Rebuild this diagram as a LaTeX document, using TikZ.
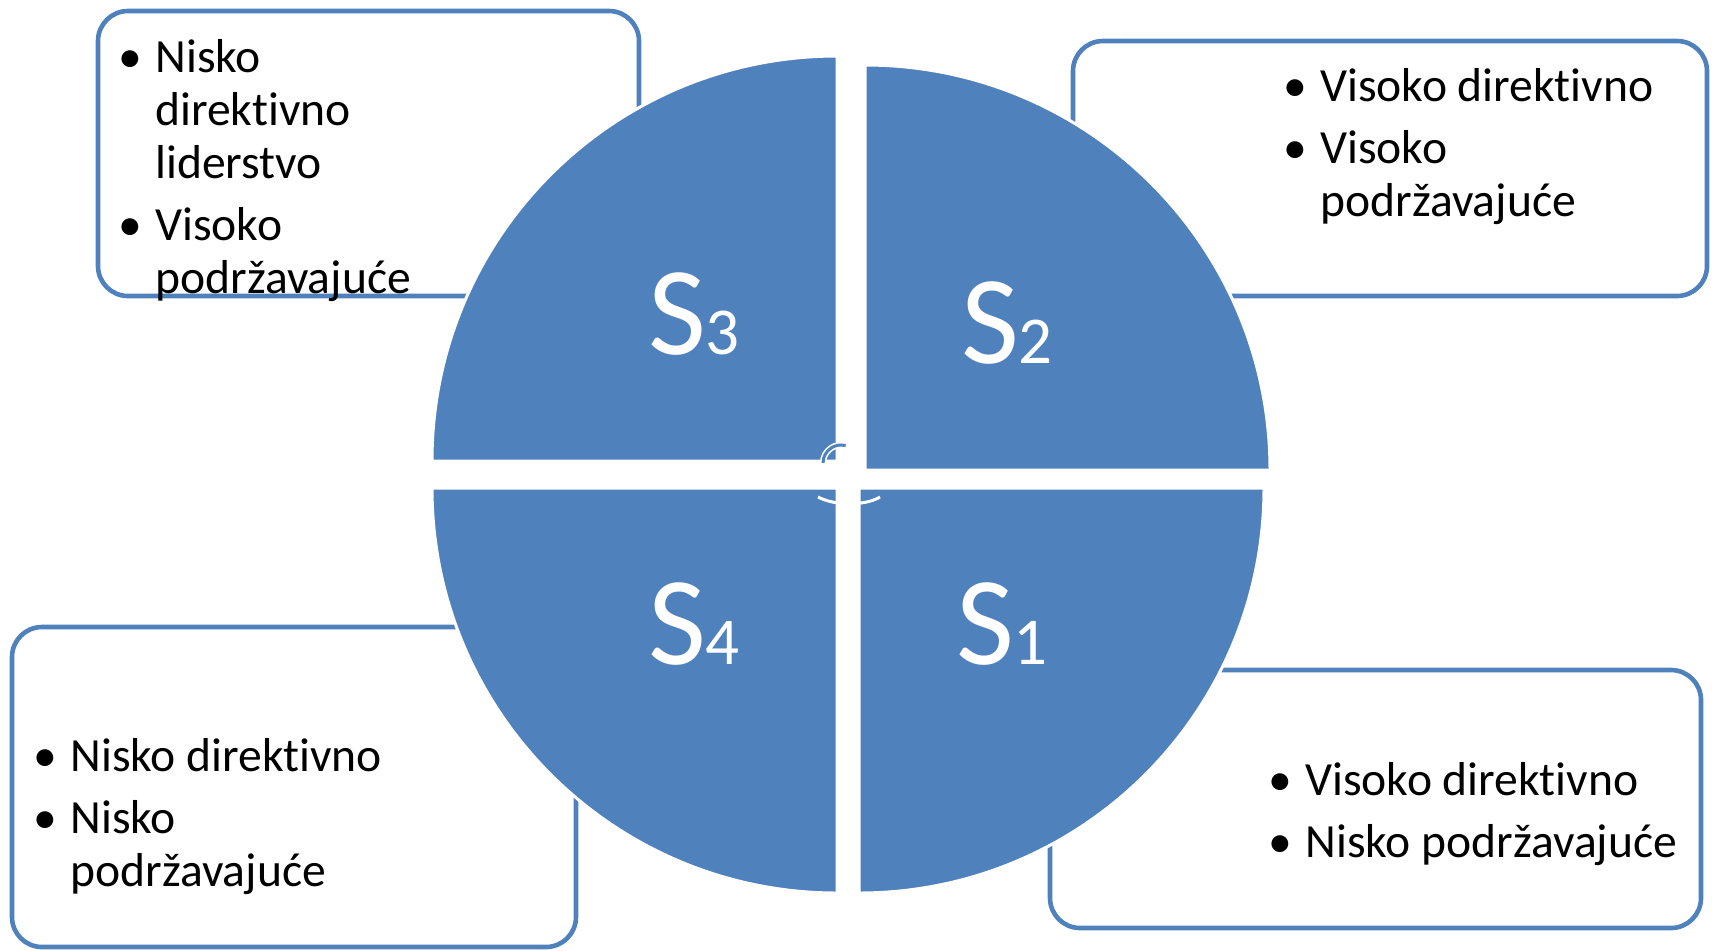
\documentclass[tikz,border=0pt]{standalone}
\usepackage{fontspec}
\setmainfont{Carlito}[Ligatures=CommonOff]
\usepackage{tikz}
\definecolor{qblue}{HTML}{4F81BD}
\newcommand\bl{\makebox[18.5pt][l]{\textbullet}}
\newcommand\ind{\hspace*{18.5pt}}
\newcommand\slab[1]{S{\fontsize{33.5pt}{33.5pt}\selectfont #1}}

\begin{document}
\begin{tikzpicture}[x=0.5pt,y=0.5pt]
    \tikzstyle{every node}+=[inner sep=0pt]
    \tikzstyle{infobox}=[draw=qblue, fill=white, line width=2.3pt, rounded corners=15pt]
    \tikzstyle{quad}=[fill=qblue, draw=white, line width=1.5pt]
    \tikzstyle{itemtext}=[anchor=base west, align=left, font=\fontsize{23.8pt}{26.5pt}\selectfont]
    \tikzstyle{slabel}=[anchor=base, text=white, font=\fontsize{63pt}{63pt}\selectfont]
    \useasboundingbox (0,0) rectangle (1712,-950);
    \draw [infobox] (98,-11) rectangle (639,-296);
    \draw [infobox] (1073,-41) rectangle (1707,-296);
    \draw [infobox] (12,-627) rectangle (576,-947);
    \draw [infobox] (1050,-670) rectangle (1701,-928);
    \draw [quad] (837,-461) -- ++(-405,0) arc[start angle=180, end angle=90, radius=405] -- cycle;
    \draw [quad] (865,-470) -- ++(0,405) arc[start angle=90, end angle=0, radius=405] -- cycle;
    \draw [quad] (859,-488) -- ++(405,0) arc[start angle=0, end angle=-90, radius=405] -- cycle;
    \draw [quad] (837,-488) -- ++(0,-405) arc[start angle=-90, end angle=-180, radius=405] -- cycle;
    \draw [white, double=qblue, double distance=1.5pt, line width=0.8pt] (823,-463) arc[start angle=180, end angle=75, radius=18];
    \draw [white, line width=1.5pt] (818,-497) .. controls (835,-506) and (865,-506) .. (880,-497);
    \node [slabel] (s3) at (694,-354) {\slab{3}};
    \node [slabel] (s2) at (1007,-363) {\slab{2}};
    \node [slabel] (s4) at (694,-664) {\slab{4}};
    \node [slabel] (s1) at (1002,-664) {\slab{1}};
    \node [itemtext] (tl) at (118,-293) {\bl Nisko\\ \ind direktivno\\ \ind liderstvo\\[4.5pt] \bl Visoko\\ \ind podržavajuće};
    \node [itemtext] (tr) at (1283,-216) {\bl Visoko direktivno\\[4.5pt] \bl Visoko\\ \ind podržavajuće};
    \node [itemtext] (bl) at (33,-886) {\bl Nisko direktivno\\[4.5pt] \bl Nisko\\ \ind podržavajuće};
    \node [itemtext] (br) at (1268,-857) {\bl Visoko direktivno\\[4.5pt] \bl Nisko podržavajuće};
\end{tikzpicture}
\end{document}
